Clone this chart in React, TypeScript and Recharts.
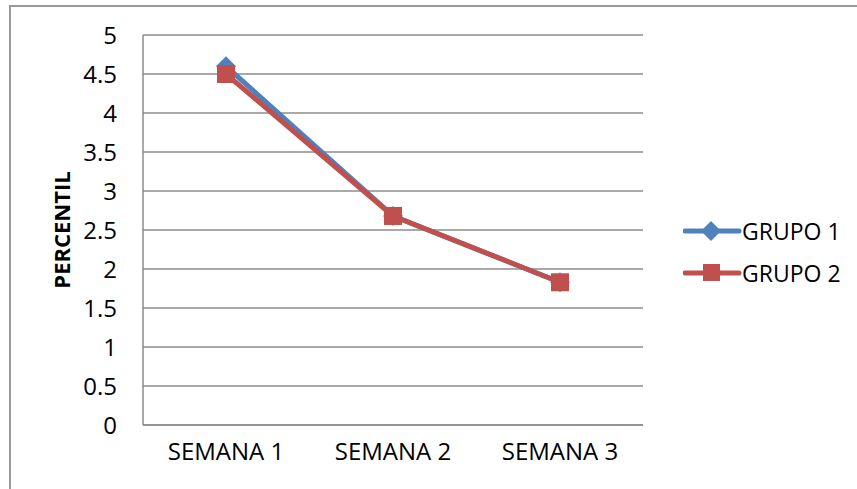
import { LineChart, Line, XAxis, YAxis, CartesianGrid, Label } from 'recharts';

const weeks = ['SEMANA 1', 'SEMANA 2', 'SEMANA 3'];
const grupo1 = [4.6, 2.68, 1.83];
const grupo2 = [4.5, 2.68, 1.83];
const yTicks = [0, 0.5, 1, 1.5, 2, 2.5, 3, 3.5, 4, 4.5, 5];
const seriesNames = ['GRUPO 1', 'GRUPO 2'];

const data = weeks.map((w, i) => ({ name: w, g1: grupo1[i], g2: grupo2[i] }));

const BLUE = '#4F81BD';
const RED = '#C0504D';
const GRID = '#8c8c8c';
const FONT = '"Open Sans", sans-serif';

const Diamond = (props: any) => {
  const { cx, cy } = props;
  if (cx == null || cy == null) return null;
  const r = 10;
  return (
    <polygon
      points={`${cx},${cy - r} ${cx + r},${cy} ${cx},${cy + r} ${cx - r},${cy}`}
      fill={BLUE}
    />
  );
};

const Square = (props: any) => {
  const { cx, cy } = props;
  if (cx == null || cy == null) return null;
  const s = 18;
  return <rect x={cx - s / 2} y={cy - s / 2} width={s} height={s} fill={RED} />;
};

const LegendRow = ({ color, marker, name }: { color: string; marker: 'diamond' | 'square'; name: string }) => (
  <div style={{ display: 'flex', alignItems: 'center', height: 42 }}>
    <svg width={59} height={24}>
      <line x1={2} y1={12} x2={56} y2={12} stroke={color} strokeWidth={5} strokeLinecap="round" />
      {marker === 'diamond' ? (
        <polygon points="28,2 38,12 28,22 18,12" fill={color} />
      ) : (
        <rect x={20} y={3} width={17} height={17} fill={color} />
      )}
    </svg>
    <span style={{ fontFamily: FONT, fontSize: 23, color: '#000' }}>{name}</span>
  </div>
);

const App = () => {
  return (
    <div style={{ position: 'absolute', left: 0, top: 0, width: 857, height: 489, background: '#fff', overflow: 'hidden' }}>
      <div
        style={{
          position: 'absolute',
          left: 9,
          top: 5,
          width: 900,
          height: 600,
          borderTop: '2px solid #9a9a9a',
          borderLeft: '2px solid #9a9a9a',
        }}
      />
      <div style={{ position: 'absolute', left: 0, top: 0 }}>
        <LineChart width={857} height={489} data={data} margin={{ top: 35, right: 214, bottom: 0, left: 0 }}>
          <CartesianGrid vertical={false} stroke={GRID} strokeWidth={1.5} />
          <XAxis
            dataKey="name"
            height={64}
            padding={{ left: 83, right: 83 }}
            tickLine={false}
            tickSize={0}
            tickMargin={18}
            axisLine={{ stroke: GRID, strokeWidth: 1.5 }}
            tick={{ fill: '#000', fontSize: 24, fontFamily: FONT }}
          />
          <YAxis
            domain={[0, 5]}
            ticks={yTicks}
            width={143}
            tickLine={false}
            tickSize={0}
            tickMargin={26}
            interval={0}
            axisLine={{ stroke: GRID, strokeWidth: 1.5 }}
            tick={{ fill: '#000', fontSize: 24, fontFamily: FONT }}
          >
            <Label
              content={(props: any) => {
                const vb = props.viewBox || { x: 0, y: 35, height: 390 };
                const x = vb.x + 61;
                const y = vb.y + vb.height / 2;
                return (
                  <text
                    x={x}
                    y={y}
                    transform={`rotate(-90, ${x}, ${y})`}
                    textAnchor="middle"
                    dominantBaseline="central"
                    fontFamily={FONT}
                    fontWeight="bold"
                    fontSize={22}
                    fill="#000"
                  >
                    PERCENTIL
                  </text>
                );
              }}
            />
          </YAxis>
          <Line
            type="linear"
            dataKey="g1"
            name={seriesNames[0]}
            stroke={BLUE}
            strokeWidth={5}
            dot={<Diamond />}
            activeDot={false}
            isAnimationActive={false}
          />
          <Line
            type="linear"
            dataKey="g2"
            name={seriesNames[1]}
            stroke={RED}
            strokeWidth={5}
            dot={<Square />}
            activeDot={false}
            isAnimationActive={false}
          />
        </LineChart>
      </div>
      <div style={{ position: 'absolute', left: 683, top: 210 }}>
        <LegendRow color={BLUE} marker="diamond" name={seriesNames[0]} />
        <LegendRow color={RED} marker="square" name={seriesNames[1]} />
      </div>
    </div>
  );
};

export default App;
